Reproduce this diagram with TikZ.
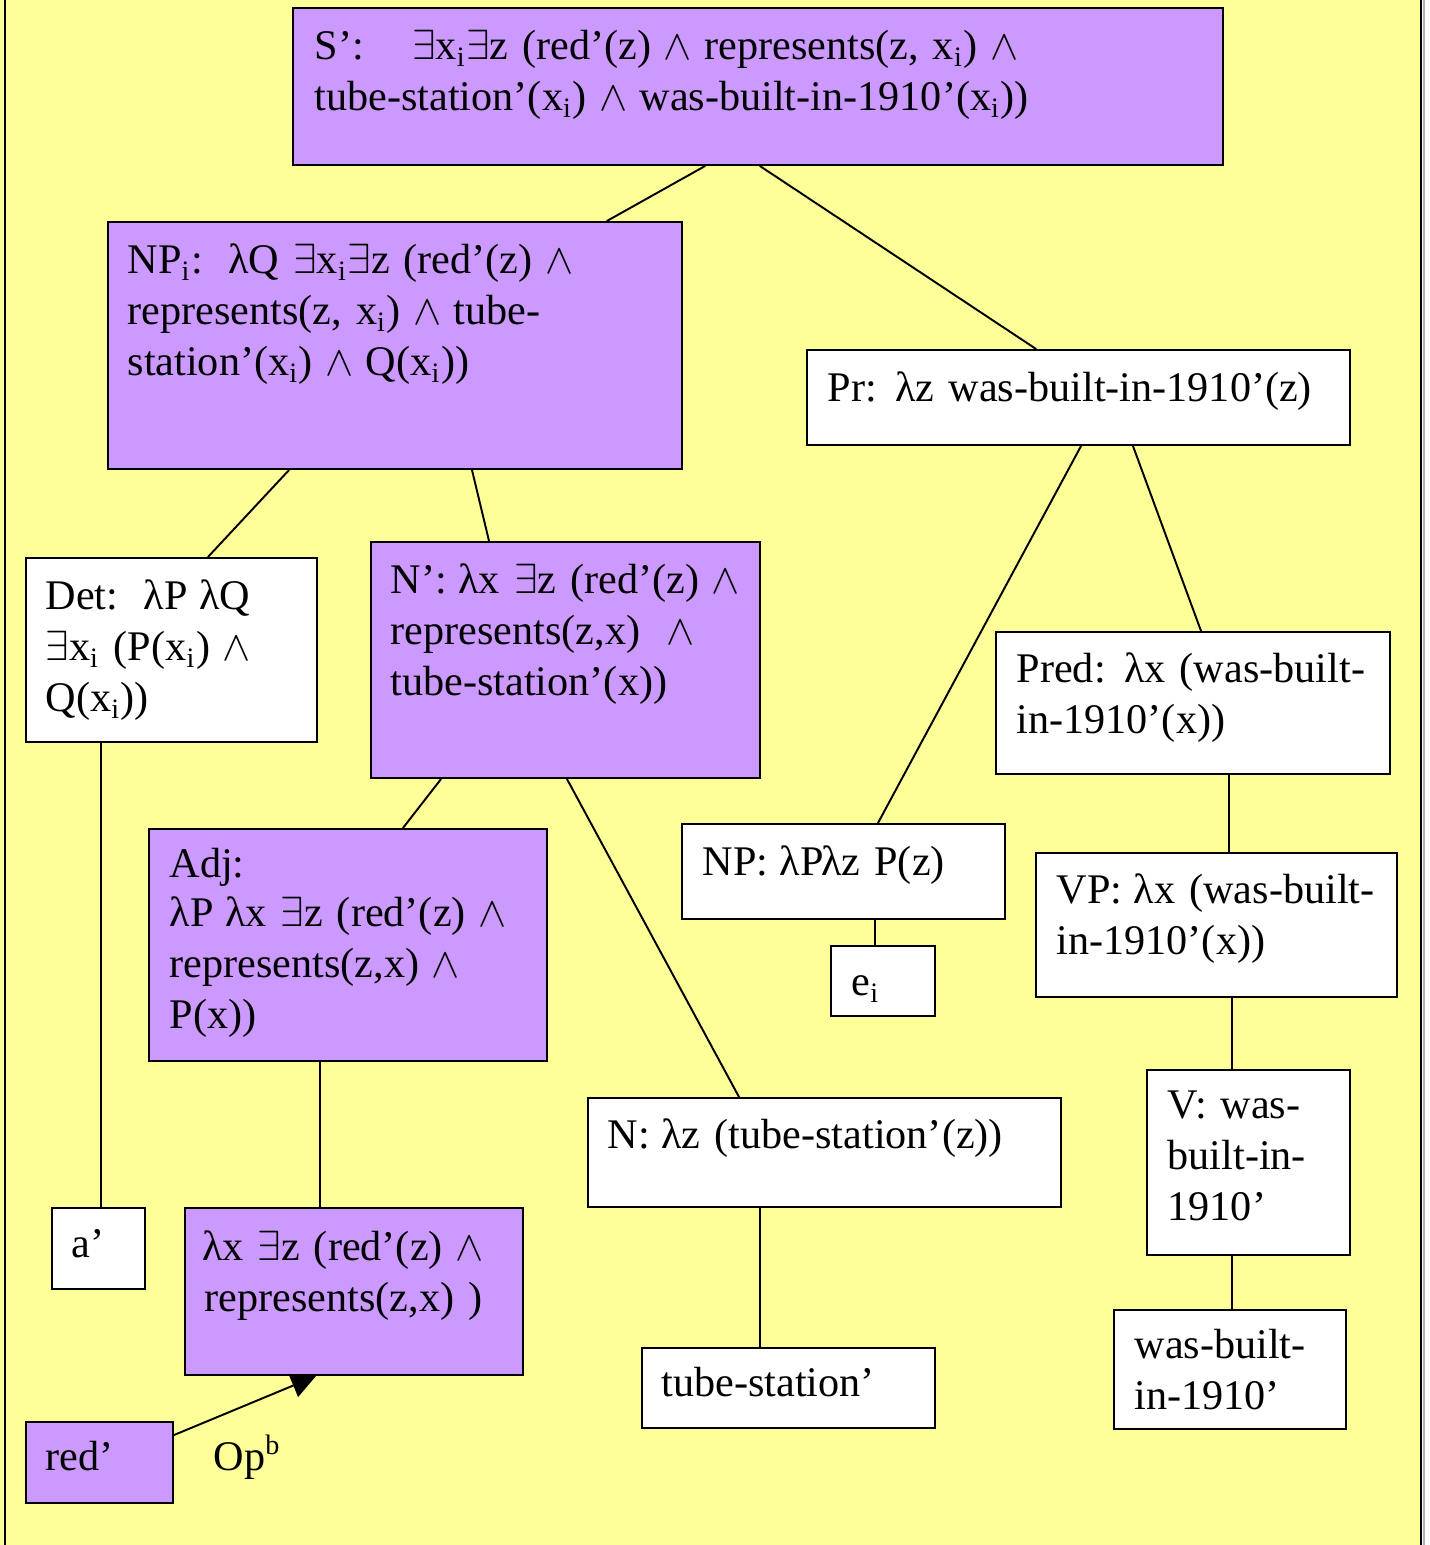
\documentclass[tikz,border=0pt]{standalone}
\usepackage{fontspec}
\setmainfont{Liberation Serif}
\usetikzlibrary{arrows.meta,fit}
\definecolor{bgyellow}{HTML}{FFFF99}
\definecolor{boxpurple}{HTML}{CC99FF}
\newcommand{\sbi}{\textsubscript{i}}
\newcommand{\exq}{$\exists$}
\newcommand{\andq}{\kern-0.04em$\wedge$\kern-0.04em}
\newcommand{\lam}{\kern-0.06em λ}
\begin{document}
\begin{tikzpicture}[x=0.01cm, y=-0.01cm, line cap=round,
  font=\fontsize{12}{14.5}\selectfont,
  box/.style={draw, line width=0.6pt, inner sep=0pt, fill=white},
  pbox/.style={box, fill=boxpurple},
  txt/.style={anchor=base west, inner sep=0pt, text width=9cm, align=left},
  edge/.style={line width=0.55pt}]
\useasboundingbox (0,0) rectangle (1429,1545);

% Nền
\fill[bgyellow] (0,0) rectangle (1421,1545);
\draw[line width=0.6pt] (5,0) -- (5,1545);
\draw[line width=0.6pt] (1421,0) -- (1421,1545);
\draw[gray!60, line width=0.6pt] (1424,0) -- (1424,1545);

% Hộp
\node[pbox, fit={(293,8) (1223,165)}] (s) {};
\node[pbox, fit={(108,222) (682,469)}] (npi) {};
\node[box, fit={(807,350) (1350,445)}] (pr) {};
\node[box, fit={(26,558) (317,742)}] (det) {};
\node[pbox, fit={(371,542) (760,778)}] (nbar) {};
\node[box, fit={(996,632) (1390,774)}] (pred) {};
\node[box, fit={(682,824) (1005,919)}] (np) {};
\node[box, fit={(831,946) (935,1016)}] (ei) {};
\node[box, fit={(1036,853) (1397,997)}] (vp) {};
\node[pbox, fit={(149,829) (547,1061)}] (adj) {};
\node[box, fit={(588,1098) (1061,1207)}] (n) {};
\node[box, fit={(1147,1070) (1350,1255)}] (v) {};
\node[box, fit={(52,1208) (145,1289)}] (a) {};
\node[pbox, fit={(185,1208) (523,1375)}] (lx) {};
\node[box, fit={(642,1348) (935,1428)}] (ts) {};
\node[box, fit={(1114,1310) (1346,1429)}] (wb) {};
\node[pbox, fit={(26,1422) (173,1503)}] (red) {};

% Chữ
\node[txt] (s-t) at ([shift={(22,53)}]s.north west) {S’:\hspace{1.15em}\exq x\sbi\exq z (red’(z) \andq{} represents(z, x\sbi) \andq\\ tube-station’(x\sbi) \andq{} was-built-in-1910’(x\sbi))};
\node[txt] (npi-t) at ([shift={(20,53)}]npi.north west) {NP\sbi:\ \ \lam Q \exq x\sbi\exq z (red’(z) \andq\\ represents(z, x\sbi) \andq{} tube-\\ station’(x\sbi) \andq{} Q(x\sbi))};
\node[txt] (pr-t) at ([shift={(21,53)}]pr.north west) {Pr: \lam z was-built-in-1910’(z)};
\node[txt] (det-t) at ([shift={(20,53)}]det.north west) {Det:\ \ \lam P \lam Q\\ \exq x\sbi{} (P(x\sbi) \andq\\ Q(x\sbi))};
\node[txt] (nbar-t) at ([shift={(20,53)}]nbar.north west) {N’: \lam x \exq z (red’(z) \andq\\ represents(z,x)\ \ \andq\\ tube-station’(x))};
\node[txt] (pred-t) at ([shift={(21,52)}]pred.north west) {Pred: \lam x (was-built-\\ in-1910’(x))};
\node[txt] (np-t) at ([shift={(21,53)}]np.north west) {NP: \lam P\lam z P(z)};
\node[txt] (ei-t) at ([shift={(21,51)}]ei.north west) {e\sbi};
\node[txt] (vp-t) at ([shift={(21,52)}]vp.north west) {VP: \lam x (was-built-\\ in-1910’(x))};
\node[txt] (adj-t) at ([shift={(21,50)}]adj.north west) {Adj:\\ \lam P \lam x \exq z (red’(z) \andq\\ represents(z,x) \andq\\ P(x))};
\node[txt] (n-t) at ([shift={(20,52)}]n.north west) {N: \lam z (tube-station’(z))};
\node[txt] (v-t) at ([shift={(21,50)}]v.north west) {V: was-\\ built-in-\\ 1910’};
\node[txt] (a-t) at ([shift={(20,51)}]a.north west) {a’};
\node[txt] (lx-t) at ([shift={(20,54)}]lx.north west) {\lam x \exq z (red’(z) \andq\\ represents(z,x) )};
\node[txt] (ts-t) at ([shift={(20,50)}]ts.north west) {tube-station’};
\node[txt] (wb-t) at ([shift={(21,50)}]wb.north west) {was-built-\\ in-1910’};
\node[txt] (red-t) at ([shift={(20,50)}]red.north west) {red’};
\node[txt] (op) at (213,1470) {Op\textsuperscript{b}};

% Nhánh
\draw[edge] (705,0 |- s.south) -- (607,0 |- npi.north);
\draw[edge] (760,0 |- s.south) -- (1036,0 |- pr.north);
\draw[edge] (289,0 |- npi.south) -- (208,0 |- det.north);
\draw[edge] (472,0 |- npi.south) -- (489,0 |- nbar.north);
\draw[edge] (1081,0 |- pr.south) -- (878,0 |- np.north);
\draw[edge] (1133,0 |- pr.south) -- (1201,0 |- pred.north);
\draw[edge] (101,0 |- det.south) -- (101,0 |- a.north);
\draw[edge] (441,0 |- nbar.south) -- (403,0 |- adj.north);
\draw[edge] (567,0 |- nbar.south) -- (739,0 |- n.north);
\draw[edge] (1229,0 |- pred.south) -- (1229,0 |- vp.north);
\draw[edge] (875,0 |- np.south) -- (875,0 |- ei.north);
\draw[edge] (1232,0 |- vp.south) -- (1232,0 |- v.north);
\draw[edge] (320,0 |- adj.south) -- (320,0 |- lx.north);
\draw[edge] (760,0 |- n.south) -- (760,0 |- ts.north);
\draw[edge] (1232,0 |- v.south) -- (1232,0 |- wb.north);

% Mũi tên Op
\draw[edge, -{Triangle[length=7pt, width=7pt]}] (red.east |- 0,1435) -- (316,0 |- lx.south);
\end{tikzpicture}
\end{document}
